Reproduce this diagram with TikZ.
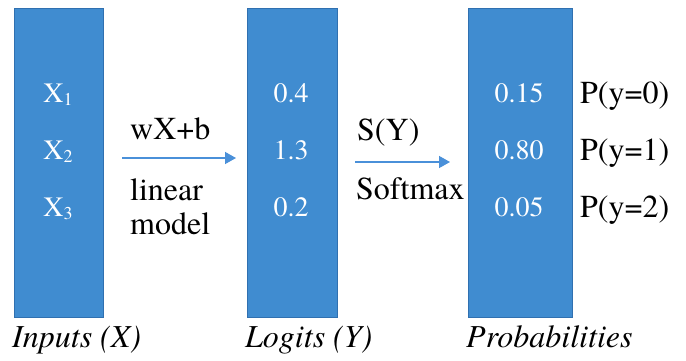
\documentclass[tikz,border=0pt]{standalone}
\usepackage{fontspec}
\setmainfont{texgyretermes}[Extension=.otf, UprightFont=*-regular, ItalicFont=*-italic, BoldFont=*-bold, BoldItalicFont=*-bolditalic]
\usetikzlibrary{arrows.meta}
\definecolor{boxfill}{RGB}{64,140,208}
\definecolor{boxline}{RGB}{48,112,176}
\definecolor{arrowblue}{RGB}{74,144,217}
\newcommand{\sbs}[1]{\raisebox{-0.12em}{\fontsize{18}{18}\selectfont #1}}
\begin{document}
\begin{tikzpicture}[x=1pt,y=-1pt,
  layer/.style={draw=boxline, fill=boxfill, line width=0.8pt, inner sep=0pt, minimum height=309pt},
  inval/.style={text=white, anchor=base, inner sep=0pt, font=\fontsize{28}{30}\selectfont},
  outtxt/.style={text=black, anchor=base, inner sep=0pt, font=\fontsize{32}{34}\selectfont},
  outleft/.style={outtxt, anchor=base west},
  caption/.style={outtxt, anchor=base west, font=\fontsize{32}{34}\selectfont\itshape},
  flow/.style={draw=arrowblue, line width=1.4pt, -{Triangle[length=11pt,width=12pt]}}
]
\useasboundingbox (0,0) rectangle (686,360);
\node[layer, minimum width=89pt] (b1) at (58.5,162.5) {};
\node[layer, minimum width=90pt] (b2) at (292,162.5) {};
\node[layer, minimum width=104pt] (b3) at (520,162.5) {};

\node[inval] (x1) at (58,102) {X\sbs{1}};
\node[inval] (x2) at (58,159) {X\sbs{2}};
\node[inval] (x3) at (58,216) {X\sbs{3}};

\node[inval] (l1) at (291,102) {0.4};
\node[inval] (l2) at (291,159) {1.3};
\node[inval] (l3) at (291,216) {0.2};

\node[inval] (p1) at (519,102) {0.15};
\node[inval] (p2) at (519,159) {0.80};
\node[inval] (p3) at (519,216) {0.05};

\node[outleft] (q1) at (580,103) {P(y=0)};
\node[outleft] (q2) at (580,160) {P(y=1)};
\node[outleft] (q3) at (580,217) {P(y=2)};

\node[outleft] (f1) at (130,139) {wX+b};
\node[outleft] (f2) at (130,200) {linear};
\node[outleft] (f3) at (130,234) {model};

\node[outleft] (s1) at (357,140) {S(Y)};
\node[outleft] (s2) at (356,199) {Softmax};

\node[caption] (c1) at (12,347) {Inputs (X)};
\node[caption] (c2) at (245,347) {Logits (Y)};
\node[caption] (c3) at (466,347) {Probabilities};

\coordinate (a1s) at (122,158);
\coordinate (a1e) at (236,158);
\coordinate (a2s) at (355,162);
\coordinate (a2e) at (450,162);
\draw[flow] (a1s) -- (a1e);
\draw[flow] (a2s) -- (a2e);
\end{tikzpicture}
\end{document}
